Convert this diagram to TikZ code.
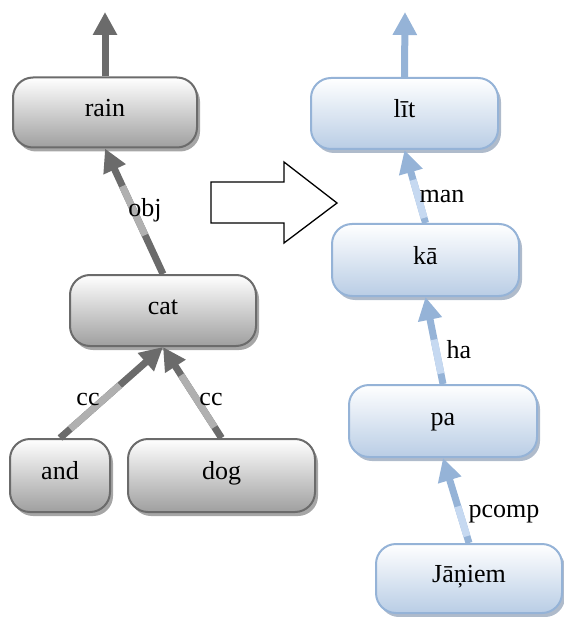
\documentclass[tikz,border=0pt]{standalone}
\usepackage{fontspec}
\setmainfont{Liberation Serif}
\usetikzlibrary{arrows.meta,shadows,calc}
\definecolor{gdark}{HTML}{6B6B6B}
\definecolor{glight}{HTML}{B0B0B0}
\definecolor{gfill}{HTML}{9F9F9F}
\definecolor{bdark}{HTML}{95B3D7}
\definecolor{blight}{HTML}{C6D9F1}
\definecolor{bfill}{HTML}{B9CDE5}
\definecolor{bshadow}{HTML}{7A8DA8}
\newcommand\lightseg[5]{\draw[line width=7pt,#3] ($(#1)!#4!(#2)$) -- ($(#1)!#5!(#2)$);}
\begin{document}
\begin{tikzpicture}[x=1pt,y=-1pt,
  font=\fontsize{26}{30}\selectfont,
  basebox/.style={line width=2pt, rounded corners=20pt, inner sep=0pt,
    text height=14pt, text depth=6pt, top color=white},
  gbox/.style={basebox, draw=gdark, bottom color=gfill,
    drop shadow={shadow xshift=3pt, shadow yshift=-4pt, fill=black, opacity=0.35}},
  bbox/.style={basebox, draw=bdark, bottom color=bfill,
    drop shadow={shadow xshift=3pt, shadow yshift=-4pt, fill=bshadow, opacity=0.6}},
  gedge/.style={draw=gdark, line width=7pt, -{Triangle[length=23pt,width=23pt]}},
  bedge/.style={draw=bdark, line width=7pt, -{Triangle[length=23pt,width=23pt]}},
  lab/.style={anchor=base, inner sep=0pt}
]
\useasboundingbox (0,0) rectangle (563,617);

% left tree
\node[gbox, minimum width=184pt, minimum height=70pt] (rain) at (105,112.5) {rain};
\node[gbox, minimum width=186pt, minimum height=71pt] (cat) at (163,310.5) {cat};
\node[gbox, minimum width=100pt, minimum height=73pt] (and) at (60,475.5) {and};
\node[gbox, minimum width=187pt, minimum height=73pt] (dog) at (221.5,475.5) {dog};

% right tree
\node[bbox, minimum width=187pt, minimum height=71pt] (lit) at (404.5,113.5) {līt};
\node[bbox, minimum width=187pt, minimum height=72pt] (ka) at (425.5,260) {kā};
\node[bbox, minimum width=188pt, minimum height=72pt] (pa) at (443,421) {pa};
\node[bbox, minimum width=186pt, minimum height=69pt] (janiem) at (469,578.5) {Jāņiem};

\coordinate (rtop) at (105,12);
\coordinate (ltop) at (405,12);

% left edges
\draw[gedge] (rain.north) -- (rtop);
\draw[gedge] (cat.north) -- (rain.south);
\lightseg{cat.north}{rain.south}{glight}{0.31}{0.70}
\draw[gedge] (and.north) -- (cat.south);
\lightseg{and.north}{cat.south}{glight}{0.10}{0.58}
\draw[gedge] (dog.north) -- (cat.south);
\lightseg{dog.north}{cat.south}{glight}{0.12}{0.69}

% right edges
\draw[bedge] (lit.north) -- (ltop);
\draw[bedge] (ka.north) -- (lit.south);
\lightseg{ka.north}{lit.south}{blight}{0.07}{0.59}
\draw[bedge] (pa.north) -- (ka.south);
\lightseg{pa.north}{ka.south}{blight}{0.12}{0.51}
\draw[bedge] (janiem.north) -- (pa.south);
\lightseg{janiem.north}{pa.south}{blight}{0.08}{0.43}

% labels
\node[lab] (lobj) at (145,217) {obj};
\node[lab] (lcc1) at (88,405) {cc};
\node[lab] (lcc2) at (211,405) {cc};
\node[lab] (lman) at (442,203) {man};
\node[lab] (lha) at (459,358) {ha};
\node[lab] (lpcomp) at (504,517) {pcomp};

% transformation arrow
\draw[line width=1.3pt, line join=miter] (211,182) -- (284,182) -- (284,162) -- (337,203)
  -- (284,243) -- (284,223) -- (211,223) -- cycle;
\end{tikzpicture}
\end{document}
